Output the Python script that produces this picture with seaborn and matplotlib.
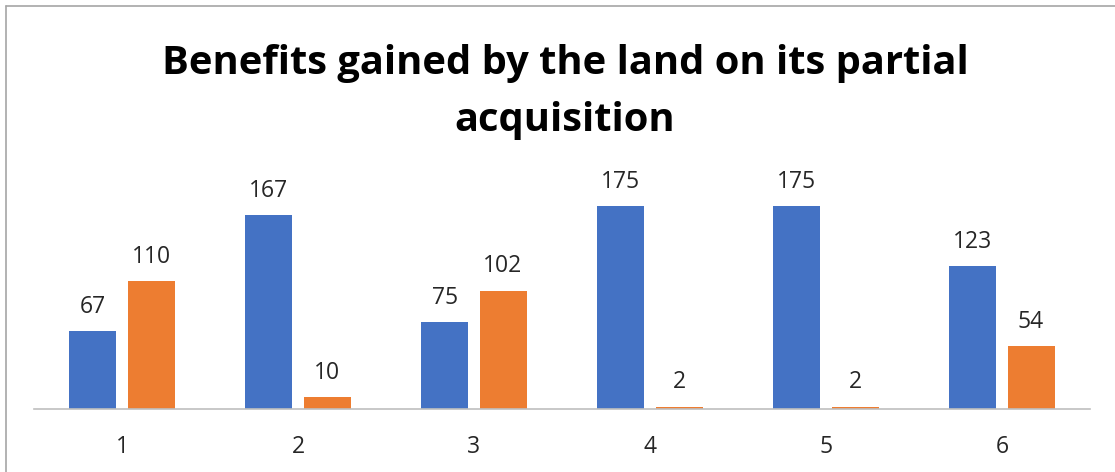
import matplotlib
matplotlib.use("Agg")
import matplotlib.pyplot as plt
import seaborn as sns
import pandas as pd
from matplotlib.lines import Line2D

# Data
categories = ['1', '2', '3', '4', '5', '6']
series_blue = [67, 167, 75, 175, 175, 123]
series_orange = [110, 10, 102, 2, 2, 54]
series_names = ['Series1', 'Series2']
colors = ['#4472C4', '#ED7D31']

sns.set_theme(style="white")
plt.rcParams['font.family'] = ['Open Sans', 'DejaVu Sans']

df = pd.DataFrame({
    'Category': categories * 2,
    'Value': series_blue + series_orange,
    'Series': [series_names[0]] * len(categories) + [series_names[1]] * len(categories),
})

W, H = 1115, 472
fig = plt.figure(figsize=(W / 100, H / 100), dpi=100)
ax = fig.add_axes([34 / W, (H - 409) / H, (1090 - 34) / W, 232 / H])

sns.barplot(data=df, x='Category', y='Value', hue='Series', order=categories,
            palette=colors, width=0.66, gap=0.19, legend=False, ax=ax,
            saturation=1, edgecolor='none')

for cont in ax.containers:
    ax.bar_label(cont, padding=9, fontsize=16.5, color='#262626')

ax.set_ylim(0, 200)
ax.set_xlim(-0.5, 5.5)
ax.set_xlabel('')
ax.set_ylabel('')
ax.set_yticks([])
for side in ['left', 'right', 'top']:
    ax.spines[side].set_visible(False)
ax.spines['bottom'].set_color('#BFBFBF')
ax.spines['bottom'].set_linewidth(1.2)
ax.tick_params(axis='x', length=0, pad=19, labelsize=16.5, labelcolor='#262626')

# Title
fig.text(565 / W, 1 - 92 / H, 'Benefits gained by the land on its partial\nacquisition',
         ha='center', va='center', fontsize=28.7, fontweight='bold',
         color='black', linespacing=1.62)

# Chart border (extends past the right and bottom edges)
fig.add_artist(Line2D([5.5 / W, 5.5 / W], [0, 1 - 6 / H], color='#A6A6A6', lw=1.2))
fig.add_artist(Line2D([5.5 / W, 1], [1 - 6 / H, 1 - 6 / H], color='#A6A6A6', lw=1.2))

fig.savefig('out.png', dpi=100)
